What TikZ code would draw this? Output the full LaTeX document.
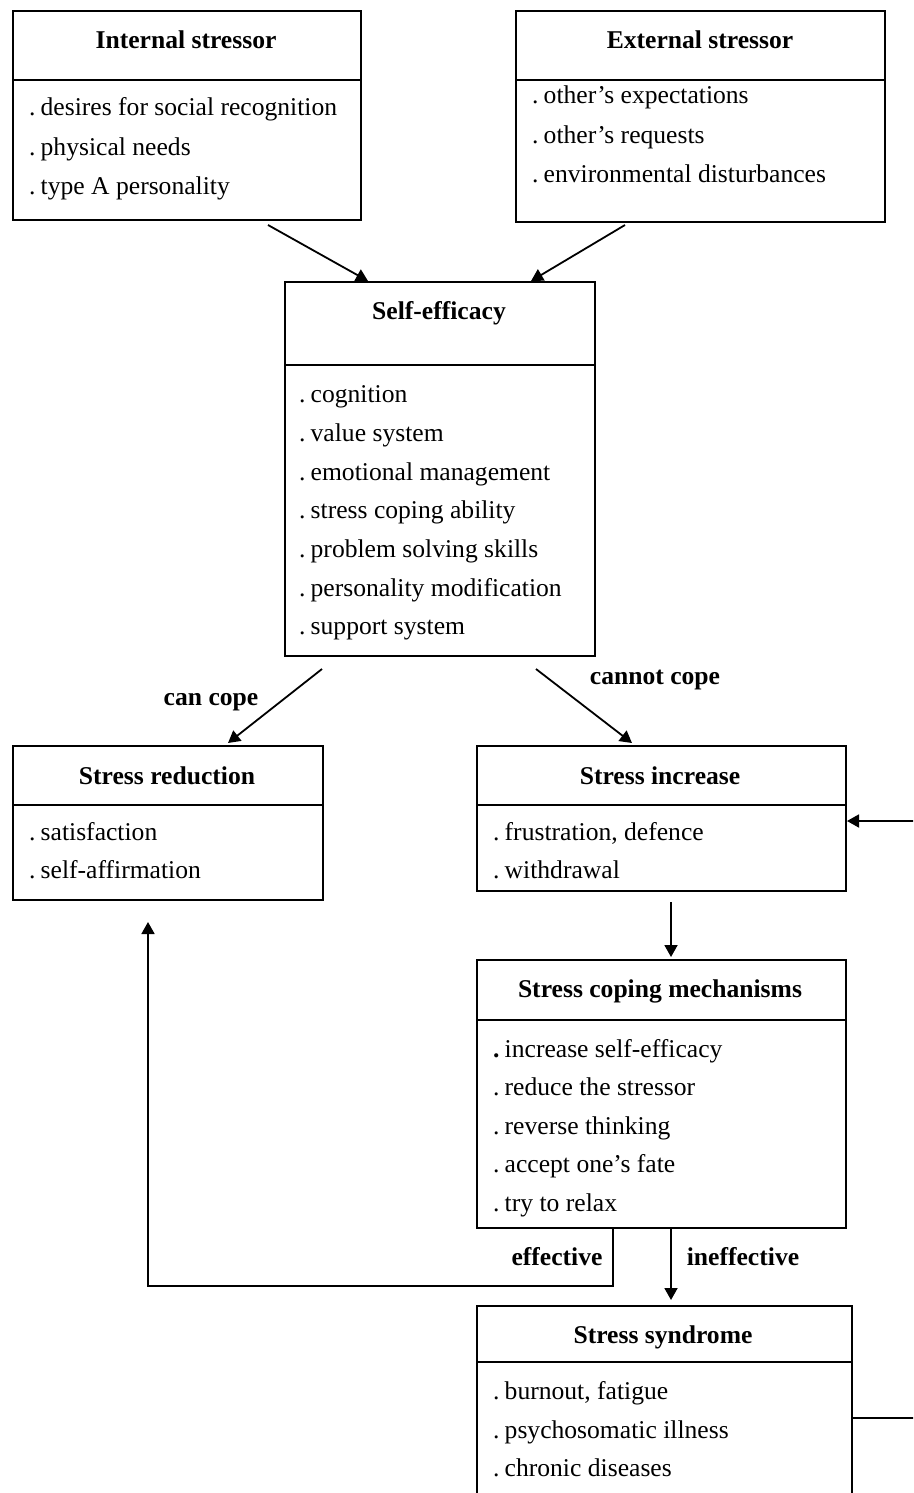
\documentclass[tikz,border=0pt]{standalone}
\usepackage{fontspec}
\setmainfont{Liberation Serif}
\usetikzlibrary{arrows.meta,calc}
% list bullet: a period followed by a narrow gap
\newcommand\itemdot{.\hspace{0.2em}}
\begin{document}
\begin{tikzpicture}[x=1pt,y=-1pt,
  box/.style={draw,line width=2pt,rectangle,anchor=north west,inner sep=0pt},
  conn/.style={line width=1.8pt,-{Triangle[length=12pt,width=13pt]}},
  plain/.style={line width=2pt},
  title/.style={font=\fontsize{25.6}{30}\selectfont\bfseries,anchor=base,inner sep=0pt},
  item/.style={font=\fontsize{25.6}{30}\selectfont,anchor=base west,inner sep=0pt},
  lbl/.style={font=\fontsize{25.6}{30}\selectfont\bfseries,anchor=base,inner sep=0pt}]
\useasboundingbox (0,0) rectangle (913,1493);
\clip (0,0) rectangle (913,1493);

% Internal stressor
\node[box,minimum width=348pt,minimum height=209pt] (intl) at (12,10) {};
\draw[plain] ($(intl.north west)+(0,70)$) -- ($(intl.north east)+(0,70)$);
\node[title] (intlT) at (186,49) {Internal stressor};
\node[item] (intl1) at (29,116) {\itemdot desires for social recognition};
\node[item] (intl2) at (29,155) {\itemdot physical needs};
\node[item] (intl3) at (29,194) {\itemdot type A personality};

% External stressor
\node[box,minimum width=369pt,minimum height=211pt] (ext) at (515,10) {};
\draw[plain] ($(ext.north west)+(0,70)$) -- ($(ext.north east)+(0,70)$);
\node[title] (extT) at (700,49) {External stressor};
\node[item] (ext1) at (532,104) {\itemdot other’s expectations};
\node[item] (ext2) at (532,143) {\itemdot other’s requests};
\node[item] (ext3) at (532,182) {\itemdot environmental disturbances};

% Self-efficacy
\node[box,minimum width=310pt,minimum height=374pt] (self) at (284,281) {};
\draw[plain] ($(self.north west)+(0,84)$) -- ($(self.north east)+(0,84)$);
\node[title] (selfT) at (439,319) {Self-efficacy};
\node[item] (self1) at (299,402) {\itemdot cognition};
\node[item] (self2) at (299,441) {\itemdot value system};
\node[item] (self3) at (299,480) {\itemdot emotional management};
\node[item] (self4) at (299,518) {\itemdot stress coping ability};
\node[item] (self5) at (299,557) {\itemdot problem solving skills};
\node[item] (self6) at (299,596) {\itemdot personality modification};
\node[item] (self7) at (299,634) {\itemdot support system};

% Stress reduction
\node[box,minimum width=310pt,minimum height=154pt] (red) at (12,745) {};
\draw[plain] ($(red.north west)+(0,60)$) -- ($(red.north east)+(0,60)$);
\node[title] (redT) at (167,784) {Stress reduction};
\node[item] (red1) at (29,840) {\itemdot satisfaction};
\node[item] (red2) at (29,878) {\itemdot self-affirmation};

% Stress increase
\node[box,minimum width=369pt,minimum height=145pt] (inc) at (476,745) {};
\draw[plain] ($(inc.north west)+(0,60)$) -- ($(inc.north east)+(0,60)$);
\node[title] (incT) at (660,784) {Stress increase};
\node[item] (inc1) at (493,840) {\itemdot frustration, defence};
\node[item] (inc2) at (493,878) {\itemdot withdrawal};

% Stress coping mechanisms
\node[box,minimum width=369pt,minimum height=268pt] (cope) at (476,959) {};
\draw[plain] ($(cope.north west)+(0,61)$) -- ($(cope.north east)+(0,61)$);
\node[title] (copeT) at (660,997) {Stress coping mechanisms};
\node[item] (cope1) at (493,1057) {{\bfseries .}\hspace{0.2em}increase self-efficacy};
\node[item] (cope2) at (493,1095) {\itemdot reduce the stressor};
\node[item] (cope3) at (493,1134) {\itemdot reverse thinking};
\node[item] (cope4) at (493,1172) {\itemdot accept one’s fate};
\node[item] (cope5) at (493,1211) {\itemdot try to relax};

% Stress syndrome
\node[box,minimum width=375pt,minimum height=300pt] (syn) at (476,1305) {};
\draw[plain] ($(syn.north west)+(0,57)$) -- ($(syn.north east)+(0,57)$);
\node[title] (synT) at (663,1343) {Stress syndrome};
\node[item] (syn1) at (493,1399) {\itemdot burnout, fatigue};
\node[item] (syn2) at (493,1438) {\itemdot psychosomatic illness};
\node[item] (syn3) at (493,1476) {\itemdot chronic diseases};

% Connectors
\draw[conn] ($(intl.south west)+(256,4)$) -- ($(self.north west)+(84,0)$);
\draw[conn] ($(ext.south west)+(110,2)$) -- ($(self.north west)+(247,0)$);
\draw[conn] ($(self.south west)+(38,12)$) -- ($(red.north west)+(216,-2)$);
\draw[conn] ($(self.south west)+(252,12)$) -- ($(inc.north west)+(156,-2)$);
\node[lbl] (canL) at (211,705) {can cope};
\node[lbl] (cannotL) at (655,684) {cannot cope};
\draw[conn] ($(inc.south west)+(195,10)$) -- ($(cope.north west)+(195,-2)$);
\draw[conn] ($(cope.south west)+(137,0)$) |- (148,1286) -- ($(red.south west)+(136,21)$);
\node[lbl] (effL) at (557,1265) {effective};
\draw[conn] ($(cope.south west)+(195,0)$) -- ($(syn.north west)+(195,-5)$);
\node[lbl] (ineffL) at (743,1265) {ineffective};
\draw[conn] ($(syn.north east)+(0,113)$) -- (940,1418) -- (940,821) -- ($(inc.north east)+(0,76)$);
\end{tikzpicture}
\end{document}
